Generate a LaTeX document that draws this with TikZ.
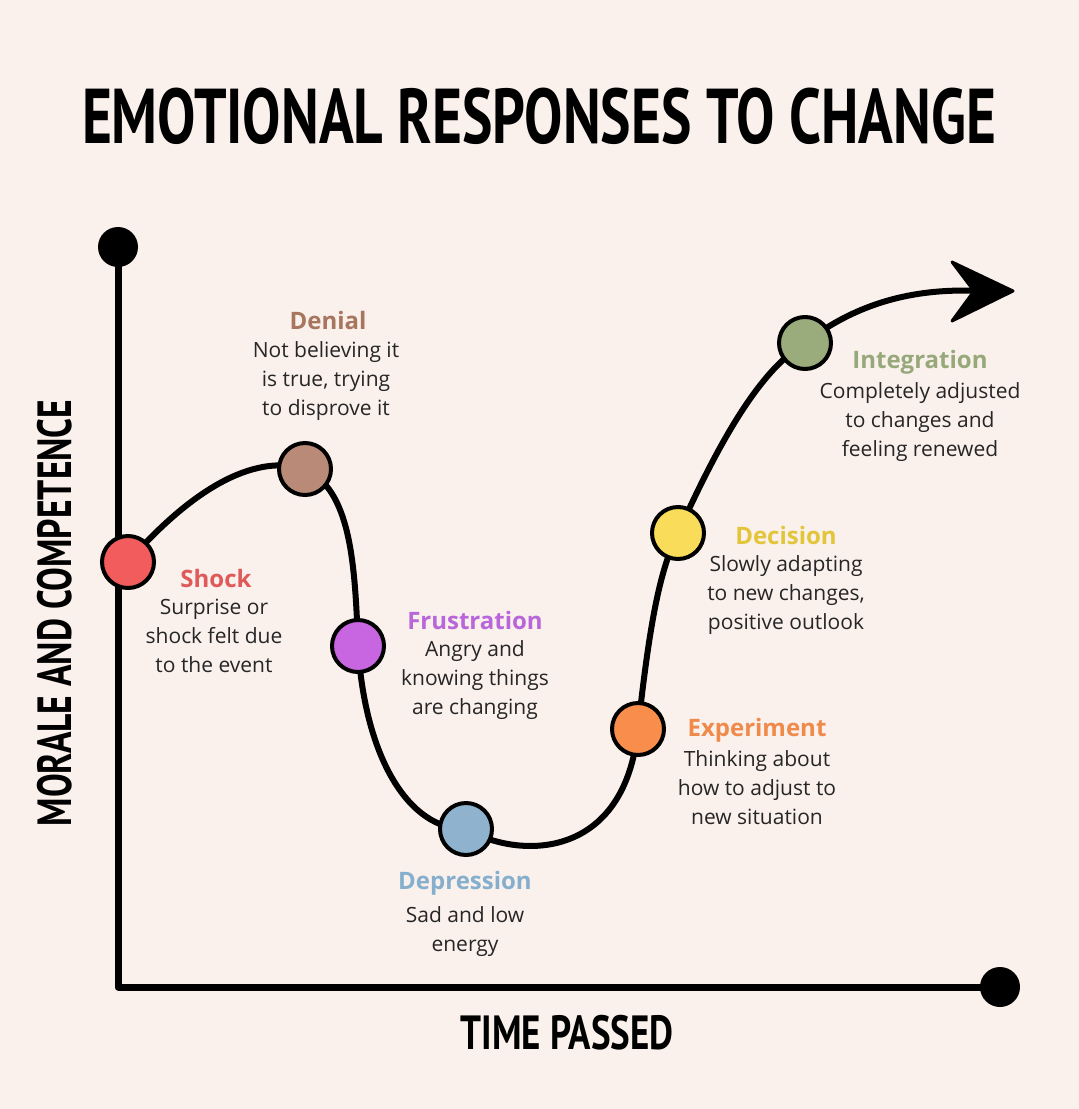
\documentclass[tikz,border=0pt]{standalone}
\usepackage{fontspec}
\setmainfont{Open Sans}
\newfontfamily\headfont{PT Sans}
\usetikzlibrary{arrows.meta}
\definecolor{bg}{HTML}{FAF1EC}
\definecolor{cshock}{HTML}{F25C5C}\definecolor{lshock}{HTML}{E05A5A}
\definecolor{cden}{HTML}{B98A78}\definecolor{lden}{HTML}{A8755E}
\definecolor{cfru}{HTML}{C865E0}\definecolor{lfru}{HTML}{B866D9}
\definecolor{cdep}{HTML}{8FB3CF}\definecolor{ldep}{HTML}{86AECD}
\definecolor{cexp}{HTML}{F98D4B}\definecolor{lexp}{HTML}{F08A4B}
\definecolor{cdec}{HTML}{F9DD5A}\definecolor{ldec}{HTML}{E3C53A}
\definecolor{cint}{HTML}{9AAB7C}\definecolor{lint}{HTML}{97A87A}
\tikzset{
 stage/.style={circle,draw=black,line width=4pt,minimum size=52pt,inner sep=0pt},
 ttl/.style={font=\fontsize{24}{28}\selectfont\bfseries,inner sep=0pt},
 body/.style={font=\fontsize{21}{29}\selectfont,align=center,inner sep=0pt,text=black!85},
 head/.style={inner sep=0pt,font=\headfont\bfseries},
}
\begin{document}
\begin{tikzpicture}[x=1pt,y=-1pt]
\fill[bg] (0,0) rectangle (1079,1109);
\useasboundingbox (0,0) rectangle (1079,1109);
\node[head] (title) at (539,116) {\scalebox{0.775}[1.05]{\fontsize{74}{80}\selectfont EMOTIONAL RESPONSES TO CHANGE}};
\node[head,rotate=90] (ylab) at (55,613) {\scalebox{0.74}[1]{\fontsize{48}{52}\selectfont MORALE AND COMPETENCE}};
\node[head] (xlab) at (567,1033) {\scalebox{0.77}[1]{\fontsize{48}{52}\selectfont TIME PASSED}};
\node[circle,fill=black,minimum size=40pt,inner sep=0] (ytop) at (118,247) {};
\node[circle,fill=black,minimum size=40pt,inner sep=0] (xend) at (1000,987) {};
\coordinate (org) at (118,987);
\draw[line width=7pt,line cap=round,line join=round] (ytop.center) -- (org) -- (xend.center);
\coordinate (tip) at (980,291);
\draw[line width=6pt]
 (128,562) .. controls (200,480) and (260,455) .. (305,469)
 .. controls (350,490) and (355,560) .. (358,646)
 .. controls (365,760) and (410,830) .. (466,829)
 .. controls (520,860) and (625,860) .. (638,729)
 .. controls (650,620) and (660,570) .. (678,533)
 .. controls (720,440) and (760,370) .. (805,343)
 .. controls (860,300) and (920,288) .. (tip);
\fill[line join=round,draw=black,line width=3pt] (1013,291) -- (952,262) -- (974,291) -- (952,321) -- cycle;
\node[stage,fill=cshock] (shock) at (128,562) {};
\node[stage,fill=cden] (denial) at (305,469) {};
\node[stage,fill=cfru] (fru) at (358,646) {};
\node[stage,fill=cdep] (dep) at (466,829) {};
\node[stage,fill=cexp] (exp) at (638,729) {};
\node[stage,fill=cdec] (dec) at (678,533) {};
\node[stage,fill=cint] (int) at (805,343) {};
\node[ttl,text=lden] (tden) at (328,320) {Denial};
\node[body,anchor=north] (bden) at (326,341) {Not believing it\\is true, trying\\to disprove it};
\node[ttl,text=lshock] (tshock) at (216,578) {Shock};
\node[body,anchor=north] (bshock) at (214,599) {Surprise or\\shock felt due\\to the event};
\node[ttl,text=lfru] (tfru) at (475,620) {Frustration};
\node[body,anchor=north] (bfru) at (475,640) {Angry and\\knowing things\\are changing};
\node[ttl,text=ldep] (tdep) at (465,883) {Depression};
\node[body,anchor=north] (bdep) at (465,906) {Sad and low\\energy};
\node[ttl,text=lexp] (texp) at (757,730) {Experiment};
\node[body,anchor=north] (bexp) at (757,750) {Thinking about\\how to adjust to\\new situation};
\node[ttl,text=ldec] (tdec) at (786,535) {Decision};
\node[body,anchor=north] (bdec) at (786,555) {Slowly adapting\\to new changes,\\positive outlook};
\node[ttl,text=lint] (tint) at (920,362) {Integration};
\node[body,anchor=north] (bint) at (920,382) {Completely adjusted\\to changes and\\feeling renewed};
\end{tikzpicture}
\end{document}
